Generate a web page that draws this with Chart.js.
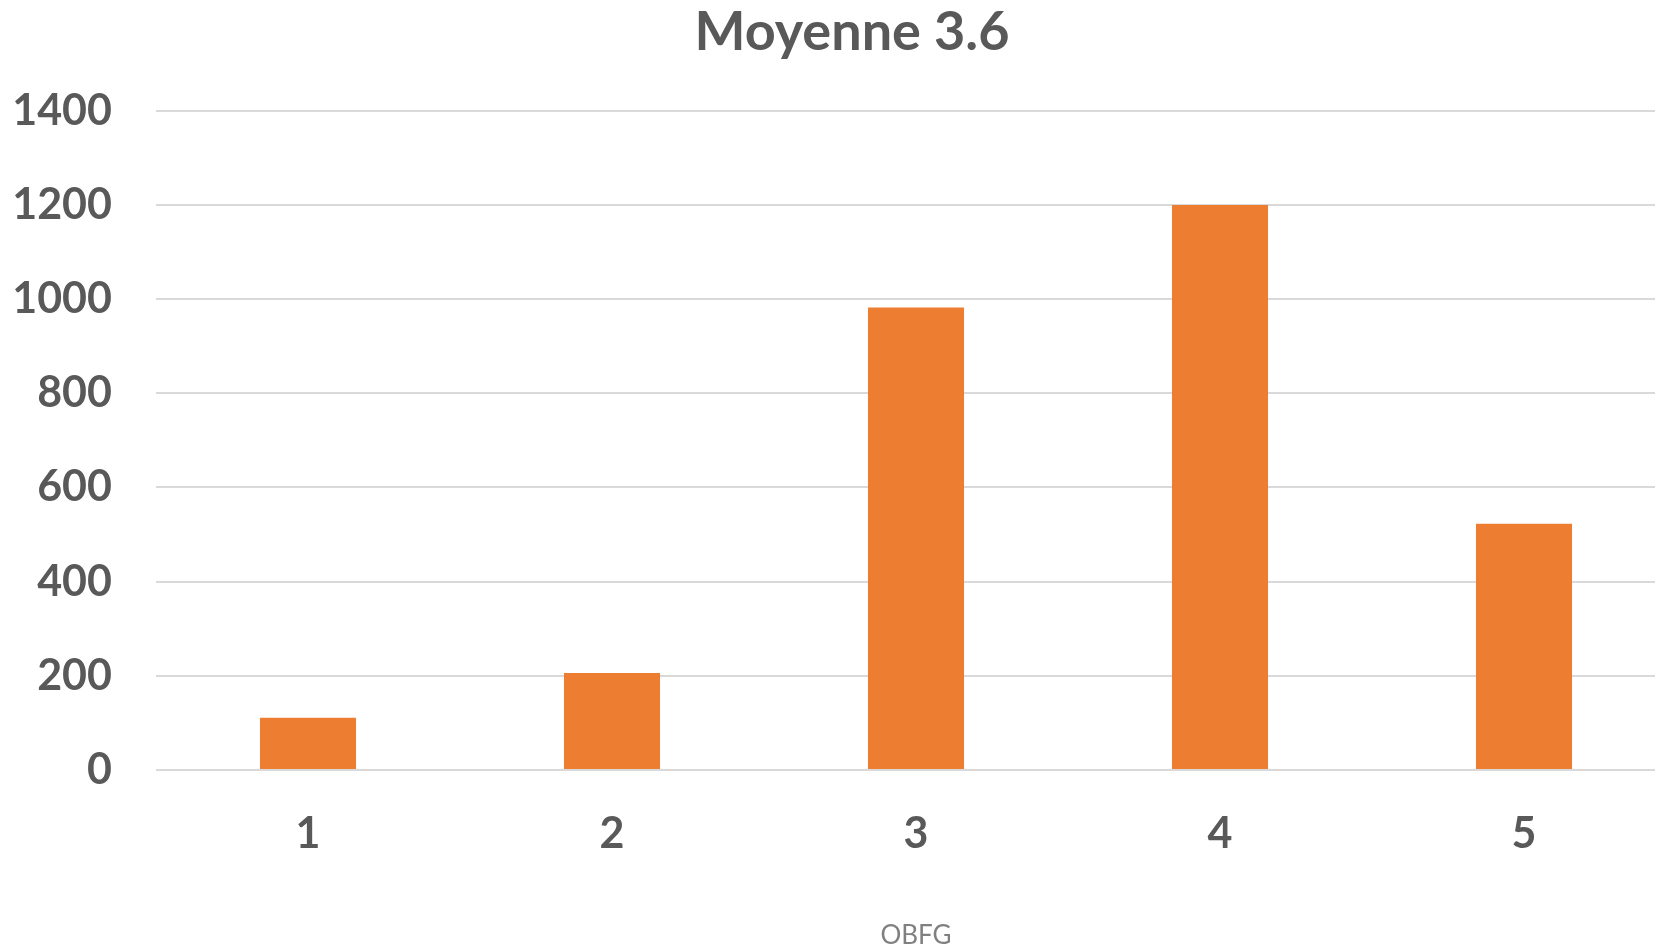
<!DOCTYPE html>
<html>
<head>
<meta charset="utf-8">
<script src="https://cdn.jsdelivr.net/npm/chart.js@4"></script>
<style>
  html, body { margin: 0; padding: 0; background: #fff; overflow: hidden; }
  #wrap { width: 1704px; height: 948px; }
</style>
</head>
<body>
<div id="wrap"><canvas id="obfg-chart" width="1704" height="948"></canvas></div>
<script>
// data
const categories = ['1', '2', '3', '4', '5'];
const counts = [111, 206, 982, 1200, 523];
const yTicks = [0, 200, 400, 600, 800, 1000, 1200, 1400];

const chartTitle = 'Moyenne 3.6';
const xTitle = 'OBFG';

const textColor = '#595959';
const barColor = '#ED7D31';
const gridColor = '#d9d9d9';

const ctx = document.getElementById('obfg-chart');

new Chart(ctx, {
  type: 'bar',
  data: {
    labels: categories,
    datasets: [
      {
        label: xTitle,
        data: counts,
        backgroundColor: barColor,
        borderWidth: 0,
        categoryPercentage: 1,
        barPercentage: 0.316
      }
    ]
  },
  options: {
    responsive: false,
    animation: false,
    layout: { padding: 0 },
    plugins: {
      legend: { display: false },
      tooltip: { enabled: false },
      title: {
        display: true,
        text: chartTitle,
        color: textColor,
        font: { family: 'Lato', size: 54, weight: 'bold', lineHeight: 1.2 },
        padding: { top: 0, bottom: 46 }
      }
    },
    scales: {
      x: {
        grid: { display: false, drawTicks: false },
        border: { display: false },
        ticks: {
          color: textColor,
          padding: 38,
          font: { family: 'Lato', size: 43, weight: 'bold', lineHeight: 1.2 }
        },
        title: {
          display: true,
          text: xTitle,
          color: '#808080',
          font: { family: 'Lato', size: 26, lineHeight: 1 },
          padding: { top: 0, bottom: -1 }
        },
        afterFit: (scale) => { scale.height = 178; }
      },
      y: {
        min: 0,
        max: 1400,
        afterBuildTicks: (scale) => { scale.ticks = yTicks.map(v => ({ value: v })); },
        grid: { color: gridColor, lineWidth: 2, drawTicks: false },
        border: { display: false },
        ticks: {
          color: textColor,
          padding: 44,
          font: { family: 'Lato', size: 43, weight: 'bold', lineHeight: 1.2 },
          callback: (value) => String(value)
        },
        afterFit: (scale) => { scale.width = 156; }
      },
      // empty strip on the right so the title stays centred on the whole chart
      spacer: {
        position: 'right',
        min: 0,
        max: 1,
        grid: { display: false },
        border: { display: false },
        ticks: { display: false },
        afterFit: (scale) => { scale.width = 28; }
      }
    }
  }
});
</script>
</body>
</html>
